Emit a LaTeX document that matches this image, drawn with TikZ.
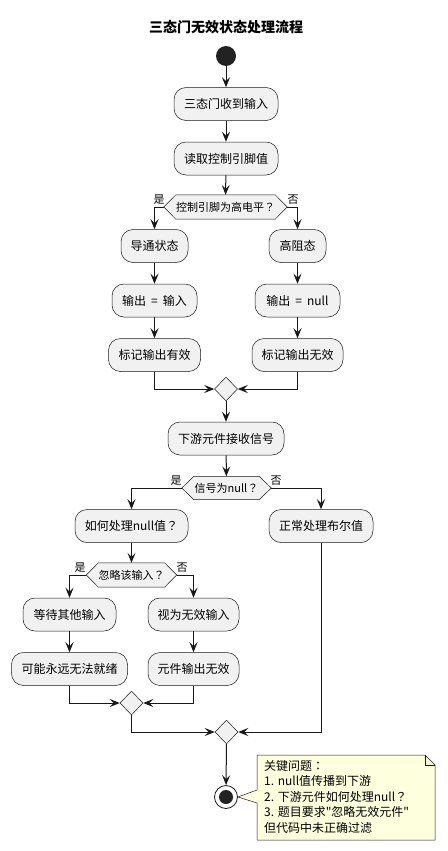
\documentclass[tikz,border=0pt]{standalone}
\usepackage{fontspec}
\newfontfamily\cjk{Noto Sans CJK SC}
\newfontfamily\jpfont{Noto Sans CJK JP}
\newcommand\fq{{\jpfont ？}}
\newcommand\fc{{\jpfont ：}}
\newcommand\eqgap{\hspace{5pt}}
\usetikzlibrary{shapes.geometric,arrows.meta,calc,backgrounds}
\definecolor{boxfill}{HTML}{F1F1F1}
\definecolor{edgec}{HTML}{181818}
\definecolor{notefill}{HTML}{FEFFDD}
\definecolor{dotc}{HTML}{222222}
\newcommand\hexdraw[1]{%
  \begin{scope}[on background layer]
  \draw[decshape] ($(#1.west)+(-12,0)$) -- (#1.north west) -- (#1.north east) -- ($(#1.east)+(12,0)$) -- (#1.south east) -- (#1.south west) -- cycle;
  \end{scope}
  \coordinate (#1l) at ($(#1.west)+(-12,0)$);
  \coordinate (#1r) at ($(#1.east)+(12,0)$);}
\begin{document}
\begin{tikzpicture}[x=1pt,y=-1pt,
  act/.style={draw=edgec, line width=0.5pt, fill=boxfill, rounded corners=12pt,
    minimum height=33pt, inner sep=0pt, font=\cjk\fontsize{12}{14}\selectfont},
  dtxt/.style={inner sep=0pt, minimum height=24pt, font=\cjk\fontsize{11}{13}\selectfont},
  decshape/.style={draw=edgec, line width=0.5pt, fill=boxfill},
  merge/.style={diamond, aspect=1, draw=edgec, line width=0.5pt, fill=boxfill,
    inner sep=0pt, minimum width=23pt, minimum height=24pt},
  arr/.style={draw=edgec, line width=1pt, -{Stealth[length=10pt,width=8pt,inset=4pt]}},
  lbl/.style={font=\cjk\fontsize{11}{13}\selectfont, inner sep=0pt},
]
\useasboundingbox (0,0) rectangle (447,851);
% title
\node[font=\cjk\bfseries\fontsize{14}{16}\selectfont] (title) at (226,27) {三态门无效状态处理流程};
% start
\node[circle, fill=dotc, minimum size=20pt, inner sep=0pt] (start) at (226,56) {};
% activities
\node[act, minimum width=104pt] (b1) at (226,104) {三态门收到输入};
\node[act, minimum width=104pt] (b2) at (226,158.5) {读取控制引脚值};
\node[dtxt, minimum width=99pt] (d1) at (225.5,207) {控制引脚为高电平\fq{}};
\hexdraw{d1}
\node[act, minimum width=67pt] (b3) at (154.5,246) {导通状态};
\node[act, minimum width=57pt] (b4) at (297.5,246) {高阻态};
\node[act, minimum width=85pt] (b5) at (154.5,300.5) {输出\eqgap{}=\eqgap{}输入};
\node[act, minimum width=85pt] (b6) at (297.5,300.5) {输出\eqgap{}=\eqgap{}null};
\node[act, minimum width=92pt] (b7) at (154.5,355) {标记输出有效};
\node[act, minimum width=91pt] (b8) at (297.5,355) {标记输出无效};
\node[merge] (m1) at (226,389) {};
\node[act, minimum width=116pt] (b9) at (226,438.5) {下游元件接收信号};
\node[dtxt, minimum width=65pt, minimum height=23pt] (d2) at (226.5,488) {信号为null\fq{}};
\hexdraw{d2}
\node[act, minimum width=113pt] (b10) at (131.5,526) {如何处理null值\fq{}};
\node[act, minimum width=104pt] (b11) at (321,526) {正常处理布尔值};
\node[dtxt, minimum width=65pt] (d3) at (131.5,575) {忽略该输入\fq{}};
\hexdraw{d3}
\node[act, minimum width=93pt] (b12) at (69.5,614.5) {等待其他输入};
\node[act, minimum width=91pt] (b13) at (193.5,614.5) {视为无效输入};
\node[act, minimum width=116pt] (b14) at (69.5,669) {可能永远无法就绪};
\node[act, minimum width=91pt] (b15) at (193.5,669) {元件输出无效};
\node[merge] (m2) at (131.5,703) {};
\node[merge] (m3) at (226.5,732) {};
% end
\node[circle, draw=edgec, line width=0.8pt, fill=white, minimum size=23pt, inner sep=0pt] (end) at (226,797) {};
\node[circle, fill=dotc, minimum size=14pt, inner sep=0pt] (endin) at (end) {};
% note
\draw[draw=edgec, line width=0.5pt, fill=notefill]
  (257,755) -- (425,755) -- (435,765) -- (435,840) -- (257,840) -- (257,803)
  -- (end.east) -- (257,790) -- cycle;
\draw[draw=edgec, line width=0.5pt] (425,755) -- (425,765) -- (435,765);
\node[anchor=north west, align=left, inner sep=0pt,
  font=\cjk\fontsize{12}{15.5}\selectfont] (note) at (264,760) {关键问题\fc{}\\1. null值传播到下游\\2. 下游元件如何处理null\fq{}\\3. 题目要求"忽略无效元件"\\但代码中未正确过滤};
% connectors
\draw[arr] (start) -- (b1);
\draw[arr] (b1) -- (b2);
\draw[arr] (b2) -- (d1);
\draw[arr] (d1l) -| (b3);
\draw[arr] (d1r) -| (b4);
\node[lbl] (y1) at (159,200) {是};
\node[lbl] (n1) at (293,200) {否};
\draw[arr] (b3) -- (b5);
\draw[arr] (b5) -- (b7);
\draw[arr] (b4) -- (b6);
\draw[arr] (b6) -- (b8);
\draw[arr] (b7) |- (m1);
\draw[arr] (b8) |- (m1);
\draw[arr] (m1) -- (b9);
\draw[arr] (b9) -- (d2);
\draw[arr] (d2l) -| (b10);
\draw[arr] (d2r) -| (b11);
\node[lbl] (y2) at (176,481) {是};
\node[lbl] (n2) at (276,481) {否};
\draw[arr] (b10) -- (d3);
\draw[arr] (d3l) -| (b12);
\draw[arr] (d3r) -| (b13);
\node[lbl] (y3) at (80,568) {是};
\node[lbl] (n3) at (182,568) {否};
\draw[arr] (b12) -- (b14);
\draw[arr] (b13) -- (b15);
\draw[arr] (b14) |- (m2);
\draw[arr] (b15) |- (m2);
\draw[arr] (m2) |- (m3);
\draw[arr] (b11) |- (m3);
\draw[arr] (m3) -- (end);
\end{tikzpicture}
\end{document}
